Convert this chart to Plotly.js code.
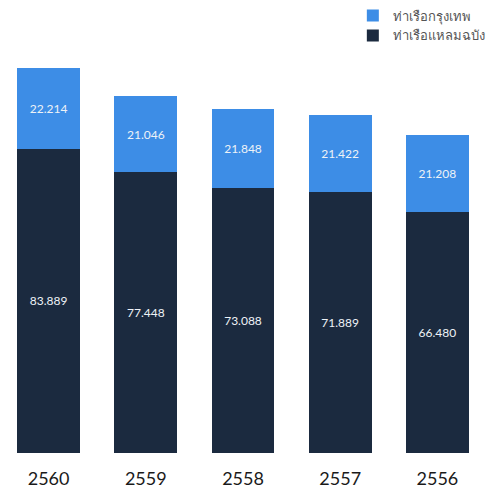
<!DOCTYPE html>
<html><head><meta charset="utf-8">
<script src="https://cdn.plot.ly/plotly-3.0.1.min.js"></script>
<style>body{margin:0;background:#fff}#c{width:494px;height:490px}</style>
</head><body><div id="c"></div>
<script>
const years = ['2560','2559','2558','2557','2556'];
const laemChabang = [83.889, 77.448, 73.088, 71.889, 66.480];
const bangkokPort = [22.214, 21.046, 21.848, 21.422, 21.208];
const seriesNames = ['ท่าเรือแหลมฉบัง', 'ท่าเรือกรุงเทพ'];
const fmt = v => v.toFixed(3);

const lblFont = {family: 'Lato, "Noto Sans", sans-serif', size: 12, color: '#eef2f7'};
const traces = [
  {type:'bar', x: years, y: laemChabang, name: seriesNames[0],
   marker:{color:'#1b2a3f'}, text: laemChabang.map(fmt), textposition:'inside',
   insidetextanchor:'middle', textfont: lblFont, hoverinfo:'none'},
  {type:'bar', x: years, y: bangkokPort, name: seriesNames[1],
   marker:{color:'#3d8de6'}, text: bangkokPort.map(fmt), textposition:'inside',
   insidetextanchor:'middle', textfont: lblFont, hoverinfo:'none'}
];
const layout = {
  width:494, height:490, barmode:'stack', bargap:0.353,
  margin:{l:0, r:8, t:36, b:37, autoexpand:false},
  paper_bgcolor:'#fff', plot_bgcolor:'#fff',
  xaxis:{type:'category', showgrid:false, zeroline:false, showline:false,
    ticks:'outside', ticklen:0, ticklabelstandoff:9,
    tickfont:{family:'Lato, "Noto Sans", sans-serif', size:18, color:'#1a1a1a'}},
  yaxis:{range:[0,115], visible:false, showgrid:false, zeroline:false},
  showlegend:true,
  legend:{x:0.726, y:1.085, xanchor:'left', yanchor:'top', traceorder:'reversed',
    font:{family:'"Noto Sans", "DejaVu Sans", sans-serif', size:13, color:'#555'},
    itemwidth:30, tracegroupgap:4, bgcolor:'rgba(0,0,0,0)'},
  uniformtext:{mode:false}
};
Plotly.newPlot('c', traces, layout, {displayModeBar:false, staticPlot:true});
</script></body></html>
